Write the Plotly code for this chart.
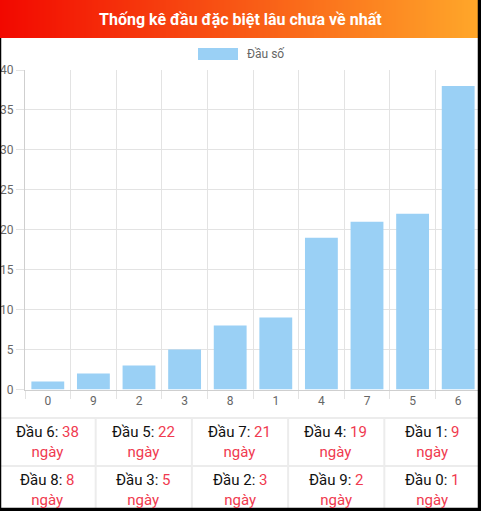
import plotly.graph_objects as go

# ---- data ----
heads = ["0", "9", "2", "3", "8", "1", "4", "7", "5", "6"]
days = [1, 2, 3, 5, 8, 9, 19, 21, 22, 38]
y_ticks = [0, 5, 10, 15, 20, 25, 30, 35, 40]
title_text = "Thống kê đầu đặc biệt lâu chưa về nhất"
legend_text = "Đầu số"
row_label = "Đầu"
unit_text = "ngày"

W, H = 481, 511
FONT = "Roboto"
BAR = "#9ad0f5"
RED = "#f03a4f"
GRID = "#e3e3e3"


def px(x):
    return x / W


def py(y):
    return 1 - y / H


fig = go.Figure()
fig.add_trace(go.Bar(x=heads, y=days, marker=dict(color=BAR, line=dict(width=0)),
                     showlegend=False, hoverinfo="x+y"))

shapes = []
annotations = []

# title bar gradient (strips)
c0 = (242, 8, 0)
c1 = (255, 168, 42)
step = 2
for x0 in range(0, W, step):
    t = (x0 + step / 2) / W
    col = tuple(int(round(c0[k] + (c1[k] - c0[k]) * t)) for k in range(3))
    shapes.append(dict(type="rect", xref="paper", yref="paper",
                       x0=px(x0), x1=px(min(x0 + step + 0.5, W)), y0=py(38), y1=py(0),
                       fillcolor="rgb(%d,%d,%d)" % col, line=dict(width=0), layer="above"))
annotations.append(dict(text="<b>%s</b>" % title_text, xref="paper", yref="paper",
                        x=px(240.5), y=py(19.5), xanchor="center", yanchor="middle",
                        showarrow=False, font=dict(family=FONT, size=16, color="white")))

# legend (manual, chart.js style)
shapes.append(dict(type="rect", xref="paper", yref="paper", x0=px(198), x1=px(238),
                   y0=py(60), y1=py(48), fillcolor=BAR, line=dict(width=0)))
annotations.append(dict(text=legend_text, xref="paper", yref="paper", x=px(245), y=py(53.5),
                        xanchor="left", yanchor="middle", showarrow=False,
                        font=dict(family=FONT, size=12, color="#666666")))

# table
order = sorted(range(len(heads)), key=lambda i: -days[i])
colw = W / 5
row_centers = [441.5, 489.5]
for k, i in enumerate(order):
    r, c = divmod(k, 5)
    cx = colw * (c + 0.5) - 1
    annotations.append(dict(
        text="%s %s: <span style='color:%s'>%d</span><br><span style='color:%s'>%s</span>"
             % (row_label, heads[i], RED, days[i], RED, unit_text),
        xref="paper", yref="paper", x=px(cx), y=py(row_centers[r]),
        xanchor="center", yanchor="middle", showarrow=False, align="center",
        font=dict(family=FONT, size=15, color="#111111")))

# table borders
for yl in [418, 466]:
    shapes.append(dict(type="line", xref="paper", yref="paper", x0=0, x1=1,
                       y0=py(yl), y1=py(yl), line=dict(color="#ececec", width=2)))
for c in range(1, 5):
    xl = colw * c - 0.5
    shapes.append(dict(type="line", xref="paper", yref="paper", x0=px(xl), x1=px(xl),
                       y0=py(418), y1=0, line=dict(color="#ececec", width=2)))

# outer frame
shapes.append(dict(type="line", xref="paper", yref="paper", x0=px(0.5), x1=px(0.5),
                   y0=py(38), y1=0, line=dict(color="black", width=1.5), layer="above"))
shapes.append(dict(type="line", xref="paper", yref="paper", x0=px(479.5), x1=px(479.5),
                   y0=py(0), y1=0, line=dict(color="black", width=3.5), layer="above"))
shapes.append(dict(type="line", xref="paper", yref="paper", x0=0, x1=1,
                   y0=py(509.5), y1=py(509.5), line=dict(color="black", width=3.5), layer="above"))

fig.update_layout(
    width=W, height=H, margin=dict(l=0, r=0, t=0, b=0, pad=0, autoexpand=False),
    paper_bgcolor="white", plot_bgcolor="white",
    font=dict(family=FONT, size=12, color="#666666"),
    bargap=0.28,
    shapes=shapes, annotations=annotations,
    xaxis=dict(type="category", domain=[px(25), 1], tickson="boundaries", automargin=False,
               ticks="outside", ticklen=8, tickcolor=GRID, tickwidth=1,
               showgrid=True, gridcolor=GRID, gridwidth=1,
               showline=True, linecolor="#cfcfcf", linewidth=1,
               tickfont=dict(family=FONT, size=12, color="#666666")),
    yaxis=dict(domain=[py(389.5), py(70)], range=[0, 40], tickvals=y_ticks, automargin=False,
               ticks="outside", ticklen=8, tickcolor=GRID, tickwidth=1,
               showgrid=True, gridcolor=GRID, gridwidth=1, zeroline=False,
               showline=True, linecolor="#cfcfcf", linewidth=1,
               tickfont=dict(family=FONT, size=12, color="#666666")),
)

post = (
    "document.documentElement.style.margin='0';"
    "document.documentElement.style.overflow='hidden';"
    "document.body.style.margin='0';document.body.style.overflow='hidden';"
    "var d=document.getElementById('{plot_id}');"
    "d.style.position='fixed';d.style.left='0px';d.style.top='0px';"
)

fig.write_html("out.html", config={"displayModeBar": False}, post_script=post)
